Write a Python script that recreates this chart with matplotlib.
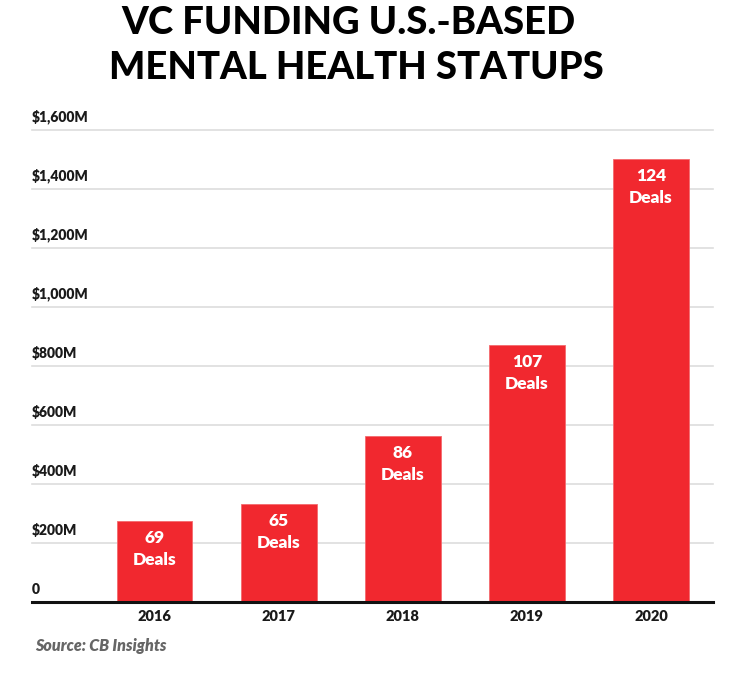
import matplotlib.pyplot as plt
import matplotlib.transforms as mtransforms

plt.rcParams["font.family"] = ["Lato", "DejaVu Sans"]

years = ["2016", "2017", "2018", "2019", "2020"]
funding = [276, 333, 564, 872, 1503]  # $M
deals = [69, 65, 86, 107, 124]
yticks = [0, 200, 400, 600, 800, 1000, 1200, 1400, 1600]
ytick_labels = ["0", "$200M", "$400M", "$600M", "$800M", "$1,000M",
                "$1,200M", "$1,400M", "$1,600M"]

RED = "#F1282F"

fig = plt.figure(figsize=(7.4, 6.75), dpi=100)
ax = fig.add_axes([32/740, 1 - 602/675, (713-32)/740, (602-130)/675])

x = range(len(years))
ax.bar(x, funding, width=0.61, color=RED, edgecolor="#F46A6E", linewidth=0.6, zorder=2)

ax.set_xlim(-0.988, 4.5)
ax.set_ylim(0, 1600)

# gridlines + tick labels sitting above the lines
blend = mtransforms.blended_transform_factory(ax.transAxes, ax.transData)
for v, lab in zip(yticks, ytick_labels):
    if v == 0:
        ax.axhline(v, color="#111111", linewidth=2.2, zorder=3, clip_on=False)
    else:
        ax.axhline(v, color="#DDDDDD", linewidth=1.2, zorder=1, clip_on=False)
    ax.annotate(lab, xy=(0, v), xycoords=blend, xytext=(0, 4), textcoords="offset points",
                ha="left", va="bottom", fontsize=10, fontweight="heavy", color="#1a1a1a")

# deal labels inside bars
for xi, v, d in zip(x, funding, deals):
    ax.annotate(f"{d}\nDeals", xy=(xi, v), xytext=(0, -7), textcoords="offset points",
                ha="center", va="top", fontsize=12.5, fontweight="heavy", color="white",
                linespacing=1.4, zorder=4)

ax.set_xticks(list(x))
ax.set_xticklabels(years, fontsize=10.5, fontweight="heavy", color="#1a1a1a")
ax.tick_params(axis="x", length=0, pad=6)
ax.set_yticks([])
for s in ax.spines.values():
    s.set_visible(False)

fig.text(348/740, 1 - 23/675, "VC FUNDING U.S.-BASED", ha="center", va="center",
         fontsize=27.5, fontweight="black", color="black")
fig.text(356/740, 1 - 68/675, "MENTAL HEALTH STATUPS", ha="center", va="center",
         fontsize=27.5, fontweight="black", color="black")

fig.text(35/740, 1 - 646/675, "Source: CB Insights", ha="left", va="center",
         fontsize=11.5, fontweight="heavy", fontstyle="italic", color="#666666")

fig.savefig("out.png", dpi=100)
